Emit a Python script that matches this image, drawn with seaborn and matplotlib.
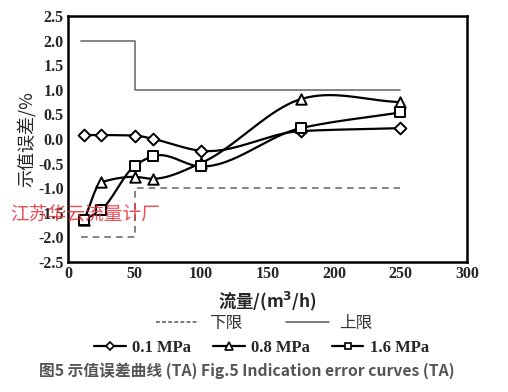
import numpy as np
import pandas as pd
import seaborn as sns
import matplotlib.pyplot as plt
from matplotlib.lines import Line2D

# data
flow = [12, 25, 50, 64, 100, 175, 250]
err_01 = [0.08, 0.08, 0.07, 0.0, -0.24, 0.16, 0.22]
err_08 = [-1.65, -0.88, -0.77, -0.81, -0.49, 0.81, 0.75]
err_16 = [-1.65, -1.44, -0.55, -0.35, -0.56, 0.22, 0.54]
upper_x = [10, 50, 50, 250]
upper_y = [2.0, 2.0, 1.0, 1.0]
lower_x = [10, 50, 50, 250]
lower_y = [-2.0, -2.0, -1.0, -1.0]


def smooth_curve(x, y, n=40):
    # cubic Hermite through the points, only for drawing the smoothed line
    x = np.asarray(x, float)
    y = np.asarray(y, float)
    d = np.diff(y) / np.diff(x)
    m = np.gradient(y, x)
    for i in range(1, len(x) - 1):
        if d[i - 1] * d[i] > 0:
            m[i] = 2 / (1 / d[i - 1] + 1 / d[i])
    m[0] = d[0]
    m[-1] = d[-1]
    xs_all, ys_all = [], []
    for i in range(len(x) - 1):
        h = x[i + 1] - x[i]
        t = np.linspace(0, 1, n)
        h00 = 2 * t ** 3 - 3 * t ** 2 + 1
        h10 = t ** 3 - 2 * t ** 2 + t
        h01 = -2 * t ** 3 + 3 * t ** 2
        h11 = t ** 3 - t ** 2
        xs_all.append(x[i] + t * h)
        ys_all.append(h00 * y[i] + h10 * h * m[i] + h01 * y[i + 1] + h11 * h * m[i + 1])
    return np.concatenate(xs_all), np.concatenate(ys_all)


sns.set_style('white')
plt.rcParams['font.family'] = ['Liberation Serif', 'Noto Sans CJK SC', 'DejaVu Sans']

fig = plt.figure(figsize=(5.08, 3.92), dpi=100)
ax = fig.add_axes([0.134, 0.332, 0.785, 0.627])

ax.plot(upper_x, upper_y, color='#707070', lw=1.2)
ax.plot(lower_x, lower_y, color='#707070', lw=1.2, ls=(0, (4, 3)))

series = [('0.1 MPa', err_01, 'D', 6), ('0.8 MPa', err_08, '^', 7.5), ('1.6 MPa', err_16, 's', 6.5)]
for name, vals, mk, ms in series:
    xs, ys = smooth_curve(flow, vals)
    sns.lineplot(x=xs, y=ys, ax=ax, color='black', lw=1.6, sort=False)
    sns.scatterplot(x=flow, y=vals, ax=ax, marker=mk, s=ms ** 2, facecolor='white',
                    edgecolor='black', linewidth=1.4, zorder=5)

ax.set_xlim(0, 300)
ax.set_ylim(-2.5, 2.5)
ax.set_xticks(np.arange(0, 301, 50))
ax.set_yticks(np.arange(-2.5, 2.51, 0.5))
ax.set_yticklabels([f'{v:.1f}' for v in np.arange(-2.5, 2.51, 0.5)])
ax.tick_params(direction='in', length=3, width=1.2, labelsize=11.5, pad=3)
for lab in ax.get_xticklabels() + ax.get_yticklabels():
    lab.set_fontweight('bold')
for sp in ax.spines.values():
    sp.set_linewidth(1.8)
    sp.set_color('black')

ax.set_ylabel('示值误差/%', family=['Noto Sans CJK SC'], fontsize=13, labelpad=2)
ax.set_xlabel('流量/(m$^\\mathbf{3}$/h)', fontsize=12.5, fontweight='bold', labelpad=4,
              family=['Noto Sans CJK SC', 'Liberation Serif'])
ax.xaxis.set_label_coords(0.5, -0.115)

# watermark
fig.text(0.02, 0.455, '江苏华云流量计厂', color='#e8303a', alpha=0.85, fontsize=13.5,
         family=['Noto Sans CJK SC'], va='center')

h1 = [Line2D([], [], color='#555555', lw=1.1, ls=(0, (2.5, 1.5))),
      Line2D([], [], color='#555555', lw=1.1)]
leg1 = fig.legend(h1, ['下限', '上限'], loc='center', bbox_to_anchor=(0.52, 0.175), ncol=2,
                  frameon=False, handlelength=2.6, columnspacing=2.6, handletextpad=0.6,
                  prop={'family': ['Noto Sans CJK SC'], 'size': 12})
for t in leg1.get_texts():
    t.set_color('#333333')

h2 = [Line2D([], [], color='black', lw=1.6, marker=mk, ms=ms * 0.75, mfc='white', mec='black', mew=1.2)
      for _, _, mk, ms in series]
fig.legend(h2, [s[0] for s in series], loc='center', bbox_to_anchor=(0.515, 0.113), ncol=3,
           frameon=False, handlelength=1.9, columnspacing=1.3, handletextpad=0.4,
           prop={'family': ['Liberation Serif'], 'size': 12, 'weight': 'bold'})

fig.text(0.077, 0.055, '图5 示值误差曲线 (TA) Fig.5 Indication error curves (TA)',
         color='#555555', fontsize=11.3, fontweight='bold', family=['Noto Sans CJK SC'],
         va='center')

fig.savefig('out.png', dpi=100)
